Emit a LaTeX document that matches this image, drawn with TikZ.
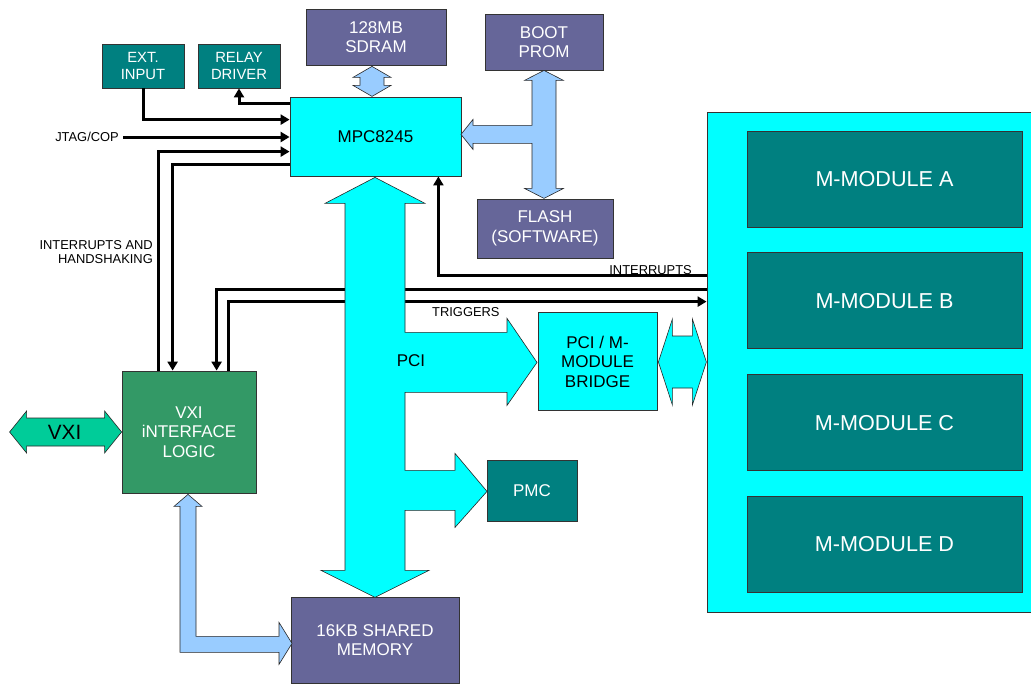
\documentclass[tikz,border=0pt]{standalone}
\usepackage{fontspec}
\setmainfont{Liberation Sans}
\usetikzlibrary{positioning,arrows.meta,calc}
\definecolor{tealbox}{RGB}{0,128,128}
\definecolor{slate}{RGB}{102,102,153}
\definecolor{aqua}{RGB}{0,255,255}
\definecolor{skyblue}{RGB}{153,204,255}
\definecolor{vxigreen}{RGB}{51,153,102}
\definecolor{seagreen}{RGB}{0,204,153}

\begin{document}
\begin{tikzpicture}[x=1pt, y=-1pt,
  blk/.style={draw=black!80, line width=0.8pt, align=center, inner sep=0pt, text=white,
    font=\fontsize{17}{19.5}\selectfont},
  small/.style={font=\fontsize{14.8}{17}\selectfont},
  modbox/.style={blk, fill=tealbox, minimum width=275, minimum height=96, font=\fontsize{21.6}{24}\selectfont},
  sig/.style={line width=3pt},
  sarr/.style={-{Triangle[length=9pt,width=10pt]}},
  fat/.style={draw=black!85, line width=0.6pt, line join=miter},
  lbl/.style={font=\fontsize{12.9}{14}\selectfont, inner sep=0pt}]
\useasboundingbox (0,0) rectangle (1031,683);
\clip (0,0) rectangle (1031,683);
% M-module carrier
\node[draw=black!80, line width=0.8pt, fill=aqua, minimum width=330, minimum height=500, inner sep=0pt] (mcont) at (872,362) {};
\node[modbox] (modA) at (884.5,179) {M-MODULE A};
\node[modbox, below=25pt of modA] (modB) {M-MODULE B};
\node[modbox, below=25pt of modB] (modC) {M-MODULE C};
\node[modbox, below=25pt of modC] (modD) {M-MODULE D};
% blocks
\node[blk, small, fill=tealbox, minimum width=82, minimum height=44] (ext) at (143,66) {EXT.\\INPUT};
\node[blk, small, fill=tealbox, minimum width=82, minimum height=44] (relay) at (239,66) {RELAY\\DRIVER};
\node[blk, fill=aqua, text=black, minimum width=171, minimum height=79] (mpc) at (375.5,136.5) {MPC8245};
\node[blk, fill=slate, minimum width=140, minimum height=56] (sdram) at (376,37) {128MB\\SDRAM};
\node[blk, fill=slate, minimum width=118, minimum height=56] (prom) at (544,42) {BOOT\\PROM};
\node[blk, fill=slate, minimum width=136, minimum height=59] (flash) at (545,228.5) {FLASH\\(SOFTWARE)};
\node[blk, fill=vxigreen, minimum width=134, minimum height=122] (vxi) at (189,432) {VXI\\iNTERFACE\\LOGIC};
\node[blk, fill=aqua, text=black, minimum width=119, minimum height=98] (bridge) at (597.5,361.5) {PCI / M-\\MODULE\\BRIDGE};
\node[blk, fill=tealbox, minimum width=90, minimum height=61] (pmc) at (532,490.5) {PMC};
\node[blk, fill=slate, minimum width=168, minimum height=86] (shmem) at (375,640) {16KB SHARED\\MEMORY};
% control signals
\node[lbl, anchor=east] (jtag) at (119,137) {JTAG/COP};
\draw[sig, sarr] (ext.south) |- ($(mpc.north west)+(0,23)$);
\draw[sig, sarr] ($(mpc.north west)+(0,7)$) -| (relay.south);
\draw[sig, sarr] ($(jtag.east)+(4,0)$) -- (jtag.east -| mpc.west);
\draw[sig, sarr] ($(vxi.north west)+(37,0)$) |- ($(mpc.north west)+(0,55)$);
\draw[sig, sarr] ($(mpc.north west)+(0,68)$) -| ($(vxi.north west)+(51,0)$);
\draw[sig, sarr] ($(mcont.north west)+(0,164)$) -| ($(mpc.south east)+(-23,0)$);
\draw[sig, sarr] ($(mcont.north west)+(0,178)$) -| ($(vxi.north west)+(95,0)$);
\draw[sig, sarr] ($(vxi.north west)+(107,0)$) |- ($(mcont.north west)+(0,190)$);
\node[lbl, anchor=east, align=right] (ihlbl) at (153,252) {INTERRUPTS AND\\HANDSHAKING};
\node[lbl, anchor=base east] (intlbl) at (692,274) {INTERRUPTS};
\node[lbl, anchor=west] (trglbl) at (432,312) {TRIGGERS};
% memory buses
\draw[fat, fill=skyblue] ($(sdram.south)+(-4,1)$) -- ++(19,11) -- ++(-7,0) -- ++(0,8) -- ++(7,0) -- ++(-19,11)
  -- ++(-19,-11) -- ++(7,0) -- ++(0,-8) -- ++(-7,0) -- cycle;
\draw[fat, fill=skyblue] (prom.south) -- ++(19.5,10) -- ++(-7.5,0) -- ++(0,108) -- ++(7.5,0) -- ++(-19.5,10)
  -- ++(-19.5,-10) -- ++(7.5,0) -- ++(0,-45) -- ++(-59,0) -- ++(0,6) -- ++(-12,-15) -- ++(12,-15) -- ++(0,6)
  -- ++(59,0) -- ++(0,-45) -- ++(-7.5,0) -- cycle;
\draw[fat, fill=skyblue] ($(vxi.south)+(-1,1)$) -- ++(14,12) -- ++(-6,0) -- ++(0,130) -- ++(83,0) -- ++(0,-14)
  -- ++(13,21) -- ++(-13,21) -- ++(0,-12) -- ++(-99,0) -- ++(0,-146) -- ++(-6,0) -- cycle;
% PCI bus
\draw[fat, fill=aqua] ($(mpc.south)+(-0.5,1)$) -- ++(50,26) -- ++(-20,0) -- ++(0,129) -- ++(102,0) -- ++(0,-14)
  -- ++(30,44) -- ++(-30,43) -- ++(0,-13) -- ++(-102,0) -- ++(0,78) -- ++(50,0) -- ++(0,-17) -- ++(32,38)
  -- ++(-32,36) -- ++(0,-17) -- ++(-50,0) -- ++(0,60) -- ++(24,0) -- ++(-54,27) -- ++(-54,-27) -- ++(24,0)
  -- ++(0,-367) -- ++(-20,0) -- cycle;
\node[font=\fontsize{17}{19.5}\selectfont] (pcilbl) at (411,361) {PCI};
\draw[fat, fill=aqua] ($(bridge.east)+(1,0.5)$) -- ++(14,-43) -- ++(0,17) -- ++(20,0) -- ++(0,-17) -- ++(14,43)
  -- ++(-14,43) -- ++(0,-17) -- ++(-20,0) -- ++(0,17) -- cycle;
% VXI backplane
\draw[fat, fill=seagreen] (vxi.west) -- ++(-17,21) -- ++(0,-7) -- ++(-78,0) -- ++(0,7) -- ++(-17,-21)
  -- ++(17,-21) -- ++(0,7) -- ++(78,0) -- ++(0,-7) -- cycle;
\node[font=\fontsize{20.7}{24}\selectfont] (vxilbl) at ($(vxi.west)+(-57,0)$) {VXI};
\end{tikzpicture}
\end{document}
